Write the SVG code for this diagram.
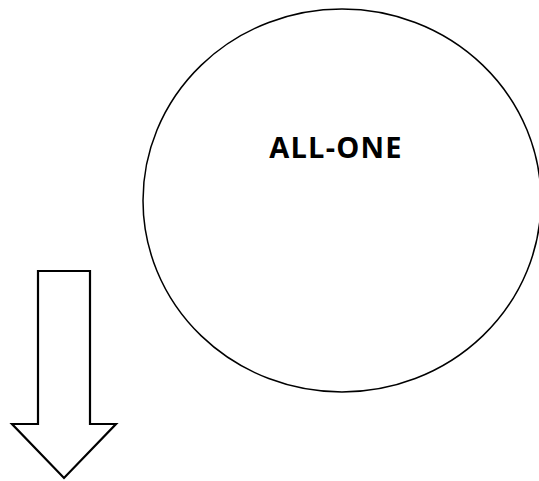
<svg xmlns="http://www.w3.org/2000/svg" width="539" height="481" viewBox="0 0 539 481">
<style>
.shape{fill:#fff;stroke:#000;stroke-width:1.5}
.arrow{fill:#fff;stroke:#000;stroke-width:2.2;stroke-linejoin:miter}
.label{font-family:"Open Sans","Liberation Sans",sans-serif;font-weight:bold;font-size:29px;fill:#000;letter-spacing:1.2px}
</style>
<rect width="539" height="481" fill="#fff"/>
<g id="node-allone">
<ellipse class="shape" cx="342" cy="200.5" rx="199" ry="191.5"/>
<text class="label" x="336" y="158" text-anchor="middle">ALL-ONE</text>
</g>
<g id="connectors">
<polygon class="arrow" points="38,271 90,271 90,424 116,424 64,478 12,424 38,424"/>
</g>
</svg>
